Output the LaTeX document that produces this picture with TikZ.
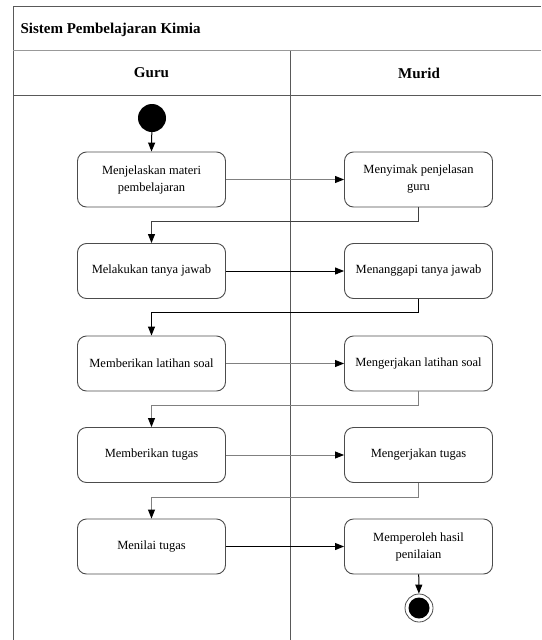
\documentclass[tikz,border=0pt]{standalone}
\usepackage{fontspec}
\setmainfont{Liberation Serif}
\usetikzlibrary{arrows.meta,positioning}

\begin{document}
\begin{tikzpicture}[
  x=1pt, y=-1pt,
  >={Triangle[length=9pt,width=7pt,color=black]},
  lane/.style={line width=1pt, draw=black!65},
  heading/.style={font=\fontsize{15}{18}\selectfont\bfseries},
  activity/.style={draw=black!70, line width=0.9pt, rounded corners=9pt,
    minimum width=148pt, minimum height=55pt, align=center, inner sep=2pt,
    font=\fontsize{12.5}{17}\selectfont},
  flow/.style={->, draw=black!50, line width=0.9pt},
  flowdark/.style={->, draw=black, line width=1pt}
]
  \useasboundingbox (0,0) rectangle (541,640);

  % Swimlane frame
  \draw[lane] (13,640) -- (13,6) -- (541,6);
  \draw[lane, draw=black!40] (13,50.5) -- (541,50.5);
  \draw[lane] (13,95) -- (541,95);
  \draw[lane] (290,50.5) -- (290,640);

  \node[heading, anchor=west] (title) at (17,30) {Sistem Pembelajaran Kimia};
  \node[heading] (guru) at (151.5,73) {Guru};
  \node[heading] (murid) at (419,73) {Murid};

  % Start and end
  \node[circle, fill=black, minimum size=28pt, inner sep=0pt] (start) at (152,118) {};
  \node[circle, draw=black!70, line width=0.8pt, minimum size=28pt, inner sep=0pt]
    (stop) at (419,608) {};
  \node[circle, fill=black, minimum size=21pt, inner sep=0pt] (stopdot) at (stop) {};

  % Guru activities
  \node[activity] (ajar) at (151.5,179.5) {Menjelaskan materi\\pembelajaran};
  \node[activity] (tanya) at (151.5,271) {Melakukan tanya jawab};
  \node[activity] (latihan) at (151.5,363.5) {Memberikan latihan soal};
  \node[activity] (tugas) at (151.5,455) {Memberikan tugas};
  \node[activity] (nilai) at (151.5,546.5) {Menilai tugas};

  % Murid activities
  \node[activity] (simak) at (418.5,179.5) {Menyimak penjelasan\\guru};
  \node[activity] (tanggapi) at (418.5,271) {Menanggapi tanya jawab};
  \node[activity] (kerjalatihan) at (418.5,363.5) {Mengerjakan latihan soal};
  \node[activity] (kerjatugas) at (418.5,455) {Mengerjakan tugas};
  \node[activity] (hasil) at (418.5,546.5) {Memperoleh hasil\\penilaian};

  % Flow
  \draw[flowdark] (start) -- (ajar.north);
  \draw[flow] (ajar) -- (simak);
  \draw[flowdark, draw=black!75] (simak.south) -- ++(0,14) -| (tanya.north);
  \draw[flowdark] (tanya) -- (tanggapi);
  \draw[flowdark] (tanggapi.south) -- ++(0,14) -| (latihan.north);
  \draw[flow] (latihan) -- (kerjalatihan);
  \draw[flow] (kerjalatihan.south) -- ++(0,14) -| (tugas.north);
  \draw[flow] (tugas) -- (kerjatugas);
  \draw[flow] (kerjatugas.south) -- ++(0,14) -| (nilai.north);
  \draw[flowdark] (nilai) -- (hasil);
  \draw[flowdark] (hasil) -- (stop);
\end{tikzpicture}
\end{document}
